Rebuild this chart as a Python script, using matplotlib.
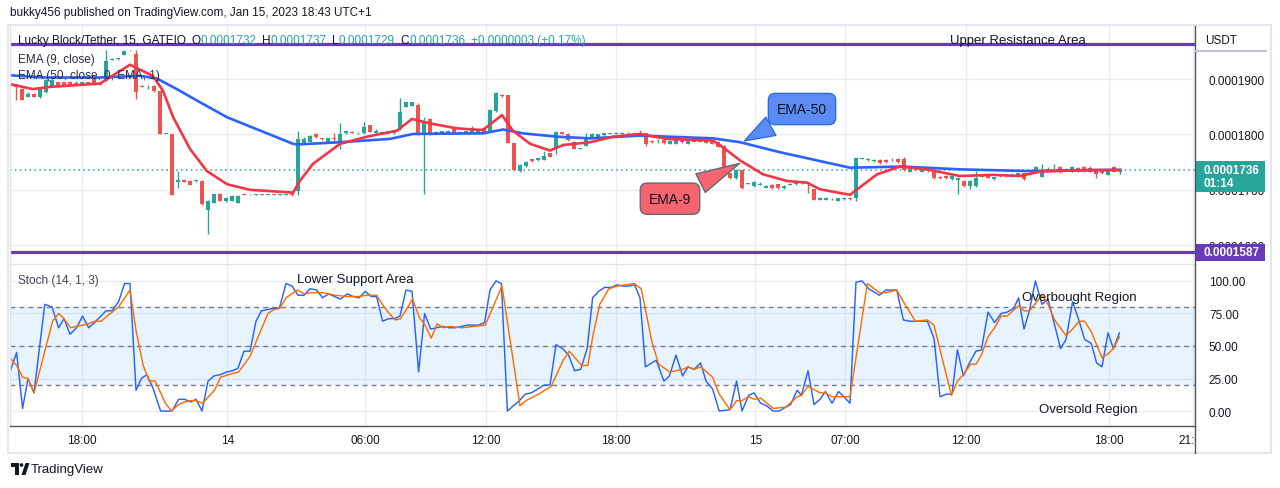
import numpy as np
import matplotlib.pyplot as plt
from matplotlib.patches import Rectangle, Polygon, Circle
from matplotlib.transforms import blended_transform_factory

plt.rcParams['font.family'] = ['Liberation Sans', 'DejaVu Sans']

# LKB/USDT 15m candles, prices in units of 1e-7 USDT
opens = [1891, 1882, 1868, 1874, 1867, 1876, 1888, 1894, 1894, 1895,
         1892, 1891, 1894, 1900, 1891, 1897, 1935, 1937, 1944, 1952,
         1945, 1888, 1887, 1888, 1879, 1801, 1801, 1715, 1718, 1716,
         1716, 1716, 1663, 1677, 1693, 1679, 1680, 1677, 1693, 1690,
         1691, 1693, 1691, 1693, 1691, 1691, 1693, 1697, 1784, 1787,
         1801, 1793, 1787, 1794, 1783, 1802, 1805, 1802, 1802, 1817,
         1803, 1803, 1802, 1802, 1810, 1850, 1852, 1853, 1802, 1828,
         1801, 1801, 1802, 1810, 1803, 1802, 1803, 1802, 1812, 1805,
         1842, 1872, 1871, 1784, 1734, 1743, 1755, 1753, 1754, 1766,
         1774, 1804, 1801, 1787, 1774, 1780, 1795, 1796, 1799, 1801,
         1801, 1801, 1802, 1803, 1803, 1802, 1789, 1786, 1790, 1783,
         1783, 1790, 1783, 1791, 1787, 1791, 1789, 1786, 1780, 1730,
         1721, 1736, 1711, 1707, 1709, 1704, 1709, 1710, 1703, 1709,
         1710, 1712, 1714, 1701, 1682, 1682, 1684, 1680, 1683, 1686,
         1685, 1756, 1753, 1752, 1754, 1754, 1753, 1756, 1755, 1733,
         1740, 1733, 1740, 1733, 1724, 1725, 1719, 1717, 1716, 1707,
         1707, 1724, 1728, 1719, 1725, 1728, 1725, 1726, 1730, 1727,
         1733, 1724, 1736, 1739, 1742, 1736, 1733, 1740, 1742, 1740,
         1737, 1734, 1727, 1742, 1732]
highs = [1892, 1884, 1876, 1875, 1886, 1900, 1903, 1895, 1895, 1896,
         1896, 1895, 1895, 1901, 1892, 1952, 1938, 1939, 1952, 1953,
         1952, 1889, 1889, 1889, 1880, 1801, 1801, 1734, 1719, 1717,
         1718, 1717, 1681, 1693, 1694, 1687, 1690, 1690, 1694, 1692,
         1692, 1693, 1692, 1693, 1692, 1693, 1694, 1807, 1795, 1799,
         1802, 1794, 1794, 1802, 1820, 1807, 1806, 1804, 1822, 1818,
         1810, 1805, 1807, 1807, 1866, 1859, 1859, 1856, 1831, 1829,
         1806, 1807, 1809, 1811, 1806, 1807, 1816, 1807, 1813, 1846,
         1876, 1874, 1872, 1785, 1746, 1752, 1756, 1759, 1771, 1767,
         1806, 1805, 1802, 1788, 1776, 1802, 1802, 1801, 1803, 1803,
         1804, 1804, 1804, 1804, 1808, 1803, 1790, 1792, 1791, 1790,
         1792, 1791, 1790, 1792, 1792, 1792, 1790, 1787, 1781, 1731,
         1737, 1737, 1713, 1716, 1714, 1708, 1710, 1711, 1708, 1713,
         1714, 1714, 1715, 1702, 1687, 1687, 1685, 1686, 1687, 1687,
         1758, 1758, 1757, 1755, 1755, 1755, 1757, 1757, 1760, 1738,
         1741, 1738, 1741, 1734, 1725, 1726, 1726, 1723, 1717, 1717,
         1734, 1729, 1729, 1724, 1729, 1729, 1730, 1731, 1731, 1733,
         1743, 1747, 1741, 1747, 1743, 1740, 1743, 1742, 1743, 1743,
         1738, 1735, 1738, 1743, 1737]
lows = [1863, 1862, 1867, 1867, 1866, 1875, 1887, 1885, 1889, 1889,
        1891, 1890, 1892, 1889, 1889, 1896, 1934, 1935, 1943, 1951,
        1864, 1885, 1882, 1877, 1800, 1800, 1690, 1704, 1714, 1708,
        1715, 1673, 1620, 1676, 1679, 1678, 1679, 1676, 1690, 1690,
        1690, 1690, 1690, 1690, 1691, 1690, 1689, 1690, 1782, 1786,
        1794, 1790, 1786, 1784, 1774, 1801, 1802, 1801, 1801, 1804,
        1802, 1802, 1801, 1801, 1808, 1849, 1851, 1799, 1692, 1799,
        1800, 1800, 1801, 1802, 1802, 1801, 1802, 1801, 1802, 1804,
        1841, 1868, 1784, 1734, 1733, 1742, 1751, 1752, 1753, 1759,
        1765, 1800, 1789, 1773, 1773, 1779, 1794, 1795, 1798, 1800,
        1800, 1800, 1801, 1801, 1800, 1779, 1785, 1785, 1783, 1782,
        1782, 1785, 1782, 1786, 1786, 1784, 1782, 1777, 1729, 1720,
        1720, 1702, 1710, 1706, 1708, 1703, 1702, 1702, 1702, 1708,
        1709, 1711, 1695, 1681, 1681, 1681, 1682, 1679, 1682, 1682,
        1680, 1755, 1752, 1750, 1747, 1749, 1752, 1749, 1734, 1732,
        1735, 1732, 1733, 1720, 1720, 1720, 1718, 1692, 1706, 1701,
        1706, 1723, 1721, 1718, 1724, 1724, 1724, 1725, 1718, 1726,
        1732, 1723, 1735, 1738, 1731, 1735, 1732, 1733, 1733, 1732,
        1722, 1729, 1726, 1733, 1729]
closes = [1885, 1863, 1874, 1868, 1882, 1899, 1899, 1886, 1890, 1890,
          1893, 1894, 1893, 1890, 1890, 1932, 1937, 1938, 1951, 1953,
          1876, 1886, 1888, 1878, 1801, 1801, 1691, 1717, 1715, 1709,
          1717, 1674, 1680, 1692, 1680, 1686, 1689, 1689, 1691, 1691,
          1692, 1691, 1692, 1691, 1692, 1693, 1691, 1792, 1792, 1798,
          1796, 1791, 1793, 1792, 1801, 1806, 1803, 1803, 1813, 1805,
          1807, 1804, 1806, 1806, 1840, 1858, 1858, 1800, 1825, 1800,
          1805, 1806, 1807, 1803, 1805, 1806, 1808, 1806, 1803, 1844,
          1875, 1869, 1785, 1736, 1745, 1751, 1752, 1758, 1762, 1760,
          1805, 1801, 1790, 1774, 1775, 1793, 1801, 1800, 1802, 1802,
          1803, 1803, 1803, 1802, 1801, 1783, 1786, 1787, 1784, 1789,
          1791, 1786, 1789, 1787, 1790, 1785, 1783, 1778, 1730, 1721,
          1736, 1703, 1712, 1715, 1710, 1707, 1703, 1703, 1707, 1710,
          1713, 1713, 1712, 1682, 1686, 1686, 1683, 1685, 1686, 1683,
          1757, 1757, 1755, 1753, 1748, 1750, 1754, 1750, 1735, 1737,
          1736, 1737, 1734, 1721, 1721, 1721, 1725, 1722, 1707, 1716,
          1722, 1725, 1722, 1723, 1726, 1725, 1726, 1730, 1719, 1731,
          1742, 1734, 1737, 1740, 1732, 1737, 1742, 1734, 1734, 1733,
          1728, 1730, 1737, 1733, 1736]

# EMA lines (bar index, price)
ema9_x = [-1, 2.8, 5.7, 14, 19, 22.8, 24.5, 26.2, 29, 31.8, 35.2, 39, 46.2,
          47.3, 49.5, 54, 58.5, 63.5, 66, 69, 73.5, 77.8, 81, 82.8, 85.7,
          89, 91.2, 95.7, 99.5, 104, 108.5, 116.2, 117.8, 120.7, 124.5,
          128.5, 131.8, 134, 139, 140.7, 143.5, 147.3, 151.8, 157.3, 162.8,
          167.3, 170.7, 179.5, 184]
ema9_y = [1891, 1882, 1886, 1892, 1926, 1906, 1879, 1831, 1774, 1734, 1710,
          1700, 1695, 1716, 1747, 1783, 1796, 1807, 1828, 1820, 1811, 1808,
          1835, 1807, 1783, 1771, 1781, 1786, 1796, 1801, 1792, 1789, 1777,
          1753, 1728, 1716, 1713, 1701, 1691, 1705, 1728, 1742, 1737, 1725,
          1727, 1725, 1733, 1736, 1736]
ema50_x = [-1, 4.5, 14, 20.7, 23.5, 26.8, 30.7, 35.2, 40.7, 46.2, 47, 54,
           62.3, 66.2, 77.8, 81.2, 84.5, 90.2, 95.7, 104, 116.2, 120.7,
           127.3, 139, 147.8, 157.3, 168.5, 184]
ema50_y = [1907, 1903, 1903, 1906, 1901, 1882, 1858, 1831, 1807, 1783, 1782,
           1786, 1792, 1801, 1802, 1809, 1802, 1796, 1793, 1798, 1793, 1786,
           1768, 1740, 1742, 1737, 1734, 1736]

# Stoch (14, 1, 3): %K and %D
k_x = [-1, 0.1, 1.1, 2.0, 3.0, 4.8, 6.0, 7.1, 8.0, 9.0, 10.1, 11.1, 12.1, 13.1,
       15.0, 16.0, 17.1, 18.1, 19.0, 20.0, 20.9, 21.8, 22.8, 24.1, 25.2, 26.0,
       27.1, 28.1, 29.1, 30.0, 31.0, 32.0, 33.0, 34.1, 35.1, 36.1, 37.0, 38.0,
       39.0, 40.0, 40.9, 41.9, 42.9, 43.9, 45.0, 46.0, 47.0, 48.0, 49.0, 50.1,
       51.1, 52.1, 53.1, 54.1, 55.2, 56.2, 57.2, 58.2, 59.2, 60.1, 61.1, 62.1,
       63.1, 64.0, 65.0, 66.0, 67.1, 68.1, 69.1, 70.1, 71.1, 72.2, 73.2, 74.2,
       75.2, 76.2, 77.1, 78.1, 79.0, 80.0, 80.9, 81.9, 82.9, 83.9, 84.9, 85.9,
       87.0, 88.0, 89.0, 90.0, 91.1, 92.1, 93.1, 94.1, 95.2, 96.1, 97.1, 98.1,
       99.2, 100.2, 101.2, 102.1, 103.1, 104.0, 104.9, 106.7, 108.0, 108.9,
       110.0, 111.1, 112.0, 113.0, 114.1, 115.0, 116.1, 117.2, 119.0, 120.1,
       121.0, 122.1, 123.0, 124.1, 125.1, 126.2, 127.2, 128.3, 129.1, 130.2,
       130.9, 132.0, 133.0, 134.0, 134.9, 136.0, 137.1, 138.0, 139.0, 140.0,
       141.0, 142.1, 143.9, 145.0, 145.9, 146.8, 147.9, 149.0, 150.1, 151.9,
       153.0, 154.0, 155.1, 156.0, 156.9, 157.9, 158.9, 160.0, 160.9, 162.0,
       163.1, 164.2, 165.2, 166.3, 167.1, 168.0, 168.9, 169.9, 171.0, 172.0,
       173.1, 174.1, 175.0, 176.1, 177.2, 178.1, 179.2, 180.1, 181.0, 182.0,
       182.9, 183.9]
k_y = [30, 45, 2, 25, 14, 82, 80, 64, 71, 59, 64, 73, 64, 68,
       77, 77, 84, 98, 98, 16, 25, 28, 18, 0, 0, 0,
       9, 9, 7, 9, 0, 23, 27, 28, 30, 31, 33, 46,
       46, 69, 77, 78, 79, 79, 98, 96, 89, 89, 94, 93,
       87, 90, 88, 86, 90, 88, 87, 92, 88, 88, 69, 71,
       71, 73, 93, 92, 30, 75, 63, 64, 65, 64, 64, 65,
       66, 66, 66, 68, 93, 100, 98, 0, 4, 8, 13, 14,
       17, 20, 20, 51, 48, 43, 31, 32, 48, 87, 92, 95,
       95, 97, 96, 96, 97, 87, 34, 39, 23, 27,
       43, 27, 34, 32, 37, 23, 17, 0, 1, 23,
       0, 12, 14, 6, 4, 0, 0, 3, 5, 16,
       12, 31, 5, 9, 15, 6, 15, 11, 6, 99,
       100, 94, 89, 93, 93, 93, 70, 69, 69, 69,
       56, 11, 13, 13, 47, 27, 37, 46, 47, 76,
       68, 75, 76, 79, 87, 63, 77, 100, 82, 86,
       66, 48, 55, 84, 69, 55, 52, 37, 34, 60,
       48, 60]
d_x = [-1, 0.1, 1.1, 2.0, 3.0, 4.8, 6.1, 7.1, 8.0, 9.1,
       10.1, 12.1, 13.1, 14.2, 15.2, 17.1, 19.0, 20.0, 21.2, 22.2,
       23.2, 24.9, 25.9, 27.1, 28.1, 29.1, 30.0, 31.1, 33.1, 34.1,
       36.2, 37.1, 39.0, 40.0, 42.0, 43.0, 44.0, 45.0, 46.9, 48.1,
       49.1, 51.1, 53.2, 55.2, 57.3, 58.3, 60.1, 61.2, 62.2, 63.2,
       64.1, 66.1, 67.2, 68.2, 69.2, 70.2, 71.2, 72.3, 74.3, 78.2,
       81.0, 84.0, 85.0, 87.1, 89.2, 91.2, 92.2, 94.3, 95.3, 96.2,
       97.3, 98.8, 100.2, 103.0, 104.2, 106.0, 107.1, 109.0, 111.1, 112.0,
       113.0, 114.1, 116.1, 117.2, 119.0, 120.1, 121.0, 122.1, 123.1, 124.1,
       126.2, 128.3, 130.2, 130.9, 132.0, 134.0, 134.9, 136.0, 138.0, 139.0,
       141.9, 143.9, 145.0, 146.8, 147.9, 149.9, 151.9, 153.0, 155.9, 156.9,
       157.9, 159.1, 160.0, 160.9, 162.0, 163.1, 164.2, 165.2, 167.1, 168.0,
       168.9, 171.0, 172.0, 173.1, 175.0, 176.1, 177.2, 178.1, 179.2, 181.0,
       182.0, 182.9, 183.9]
d_y = [41, 35, 26, 25, 14, 46, 69, 75, 71, 64,
       65, 67, 69, 69, 73, 80, 93, 62, 35, 23,
       23, 6, 0, 5, 7, 8, 8, 6, 16, 26,
       29, 30, 42, 53, 75, 78, 79, 87, 93, 90,
       91, 91, 89, 88, 88, 89, 89, 81, 75, 70,
       71, 86, 72, 66, 56, 67, 64, 65, 64, 66,
       96, 4, 8, 13, 19, 39, 46, 35, 35, 59,
       82, 94, 96, 98, 94, 53, 36, 30, 32, 34,
       32, 34, 26, 13, 1, 8, 8, 11, 9, 10,
       2, 3, 11, 12, 19, 14, 14, 11, 11, 11,
       98, 91, 91, 93, 84, 69, 70, 66, 12, 23,
       28, 36, 36, 43, 57, 64, 73, 73, 81, 77,
       77, 89, 82, 70, 58, 63, 69, 69, 61, 41,
       44, 48, 57]

resistance = 1963
support = 1587

tick_pos = [11, 35.2, 58.2, 78.3, 100, 123.2, 138.2, 158.3, 182.2, 196.2]
tick_labels = ['18:00', '14', '06:00', '12:00', '18:00', '15', '07:00',
               '12:00', '18:00', '21:00']

GREEN = '#26A69A'
RED = '#EF5350'
BLUE = '#2962FF'
EMA9_COL = '#F23645'
ORANGE = '#FF6D00'
PURPLE = '#673AB7'
GRID = '#E8EDF3'
DARK = '#131722'
BORDER = '#E0E3EB'
FS = 8.5

W, H = 1280, 489
fig = plt.figure(figsize=(W / 100, H / 100), dpi=100)


def rect(l, t, r, b):
    return [l / W, 1 - b / H, (r - l) / W, (b - t) / H]


ax = fig.add_axes(rect(10, 27, 1195, 265))
sx = fig.add_axes(rect(10, 265, 1195, 427), sharex=ax)

# candles
o, h, l, c = (np.array(v) for v in (opens, highs, lows, closes))
x = np.arange(len(c))
cols = np.where(c >= o, GREEN, RED)
ax.vlines(x, l, h, colors=cols, lw=1, zorder=2)
ax.bar(x, np.maximum(np.abs(c - o), 0.9), bottom=np.minimum(o, c), width=0.8,
       color=cols, lw=0, zorder=2)

ax.plot(ema50_x, ema50_y, color=BLUE, lw=1.9, zorder=3, solid_joinstyle='round')
ax.plot(ema9_x, ema9_y, color=EMA9_COL, lw=1.9, zorder=3, solid_joinstyle='round')

ax.axhline(c[-1], color=GREEN, lw=1.1, ls=(0, (1, 2.2)), zorder=1)
ax.axhline(resistance, color=PURPLE, lw=2.3, zorder=4)
ax.axhline(support, color=PURPLE, lw=2.3, zorder=4)

ax.set_xlim(-1, 196.5)
ax.set_ylim(1566, 1996)
ax.yaxis.tick_right()
ax.set_yticks([1600, 1700, 1800, 1900])
ax.yaxis.set_major_formatter(lambda v, p: f'{v * 1e-7:.7f}')
ax.tick_params(axis='y', length=0, pad=10, labelsize=FS, labelcolor=DARK)
ax.tick_params(axis='x', length=0, labelbottom=False)
ax.grid(True, color=GRID, lw=1)
ax.set_axisbelow(True)
for s in ax.spines.values():
    s.set_visible(False)

# price labels on the axis
tr = blended_transform_factory(ax.transAxes, ax.transData)
ax.add_patch(Rectangle((1.0, 1696), 70 / 1185, 56, transform=tr, fc=GREEN,
                       ec='none', clip_on=False, zorder=10))
ax.text(1 + 9 / 1185, c[-1] - 1, f'{c[-1] * 1e-7:.7f}', transform=tr, color='white',
        fontsize=FS, fontweight='bold', va='center', clip_on=False, zorder=11)
ax.text(1 + 9 / 1185, 1712, '01:14', transform=tr, color='white',
        fontsize=FS, fontweight='bold', va='center', clip_on=False, zorder=11)
ax.add_patch(Rectangle((1.0, 1572), 70 / 1185, 30, transform=tr, fc=PURPLE,
                       ec='none', clip_on=False, zorder=10))
ax.text(1 + 9 / 1185, support, f'{support * 1e-7:.7f}', transform=tr, color='white',
        fontsize=FS, fontweight='bold', va='center', clip_on=False, zorder=11)

# legend line
t = ax.text(0.007, 0.941, 'Lucky Block/Tether, 15, GATEIO', transform=ax.transAxes,
            fontsize=FS, color=DARK, va='center', zorder=7)
for name, val in zip('OHLC', (o[-1], h[-1], l[-1], c[-1])):
    t = ax.annotate(name, xy=(1, 0), xycoords=t, xytext=(4, 0), textcoords='offset points',
                    fontsize=FS, color=DARK, va='bottom', zorder=7)
    t = ax.annotate(f'{val * 1e-7:.7f}', xy=(1, 0), xycoords=t, fontsize=FS,
                    color=GREEN, va='bottom', zorder=7)
chg = c[-1] - c[-2]
ax.annotate(f'+{chg * 1e-7:.7f} (+{chg / c[-2] * 100:.2f}%)', xy=(1, 0), xycoords=t,
            xytext=(4, 0), textcoords='offset points', fontsize=FS, color=GREEN,
            va='bottom', zorder=7)
ax.text(0.007, 0.861, 'EMA (9, close)', transform=ax.transAxes, fontsize=FS,
        color='#2A2E39', va='center', zorder=7)
ax.text(0.007, 0.794, 'EMA (50, close, 0, EMA, 1)', transform=ax.transAxes, fontsize=FS,
        color='#2A2E39', va='center', zorder=7)

ax.text(167, 1970.5, 'Upper Resistance Area', ha='center', va='center', fontsize=9.5,
        color=DARK, zorder=7)

ax.annotate('EMA-50', xy=(121, 1786), xytext=(131, 1846), ha='center', va='center',
            fontsize=10, color=DARK, zorder=8,
            bbox=dict(boxstyle='round,pad=0.62,rounding_size=0.5', fc='#5B8CF5',
                      ec='#2F6BE0', lw=1),
            arrowprops=dict(arrowstyle='wedge,tail_width=1.5,shrink_factor=0.5',
                            fc='#5B8CF5', ec='#2F6BE0', lw=1))
ax.annotate('EMA-9', xy=(121, 1750), xytext=(109, 1684), ha='center', va='center',
            fontsize=10, color=DARK, zorder=8,
            bbox=dict(boxstyle='round,pad=0.62,rounding_size=0.5', fc='#F5646F',
                      ec='#5E6A78', lw=1),
            arrowprops=dict(arrowstyle='wedge,tail_width=1.5,shrink_factor=0.5',
                            fc='#F5646F', ec='#5E6A78', lw=1))

# stochastic pane
sx.axhspan(20, 80, color='#2196F3', alpha=0.1, lw=0)
for lvl in (20, 50, 80):
    sx.axhline(lvl, color='#787B86', lw=1, ls=(0, (3.5, 3)))
sx.plot(k_x, k_y, color=BLUE, lw=1.05, zorder=3)
sx.plot(d_x, d_y, color=ORANGE, lw=1.05, zorder=3)
sx.set_ylim(-11.5, 113)
sx.yaxis.tick_right()
sx.set_yticks([0, 25, 50, 75, 100])
sx.yaxis.set_major_formatter(lambda v, p: f'{v:.2f}')
sx.tick_params(axis='y', length=0, pad=10, labelsize=FS, labelcolor=DARK)
sx.set_xticks(tick_pos)
sx.set_xticklabels(tick_labels)
sx.tick_params(axis='x', length=0, pad=6, labelsize=FS, labelcolor=DARK)
sx.grid(True, color=GRID, lw=1)
sx.set_axisbelow(True)
for s in sx.spines.values():
    s.set_visible(False)
sx.text(0.007, 0.901, 'Stoch (14, 1, 3)', transform=sx.transAxes, fontsize=FS,
        color='#434651', va='center')
sx.text(56.5, 101.5, 'Lower Support Area', ha='center', va='center', fontsize=9.5, color=DARK)
sx.text(177.2, 87.6, 'Overbought Region', ha='center', va='center', fontsize=9.5, color=DARK)
sx.text(178.7, 1.5, 'Oversold Region', ha='center', va='center', fontsize=9.5, color=DARK)

# page furniture in pixel coordinates
ov = fig.add_axes([0, 0, 1, 1], zorder=5)
ov.set_xlim(0, W)
ov.set_ylim(H, 0)
ov.axis('off')
ov.add_patch(Rectangle((1195.5, 428), 74, 25, fc='white', ec='none'))
ov.add_patch(Rectangle((8, 26), 1263, 428, fill=False, ec=BORDER, lw=1.2))
ov.plot([10, 1195], [265, 265], color=BORDER, lw=1)
ov.plot([10, 10], [27, 427], color=BORDER, lw=1)
ov.plot([1195, 1195], [27, 454], color='#50535E', lw=1)
ov.plot([10, 1195], [427, 427], color='#50535E', lw=1)
ov.plot([1196, 1266], [52, 52], color='#C9BCE6', lw=1.5)
ov.text(1205, 41, 'USDT', fontsize=FS, color=DARK, va='center')
ov.text(10, 13, 'bukky456 published on TradingView.com, Jan 15, 2023 18:43 UTC+1',
        fontsize=FS, color=DARK, va='center')
ov.add_patch(Polygon([(11, 464), (19, 464), (19, 476), (15, 476), (15, 468), (11, 468)],
                     closed=True, fc=DARK, ec='none'))
ov.add_patch(Circle((21.5, 466), 1.8, fc=DARK, ec='none'))
ov.add_patch(Polygon([(21.5, 476), (25.5, 464), (29.5, 464), (25.5, 476)],
                     closed=True, fc=DARK, ec='none'))
ov.text(31, 470.5, 'TradingView', fontsize=9.5, color=DARK, va='center')

fig.savefig('out.png', dpi=100)
